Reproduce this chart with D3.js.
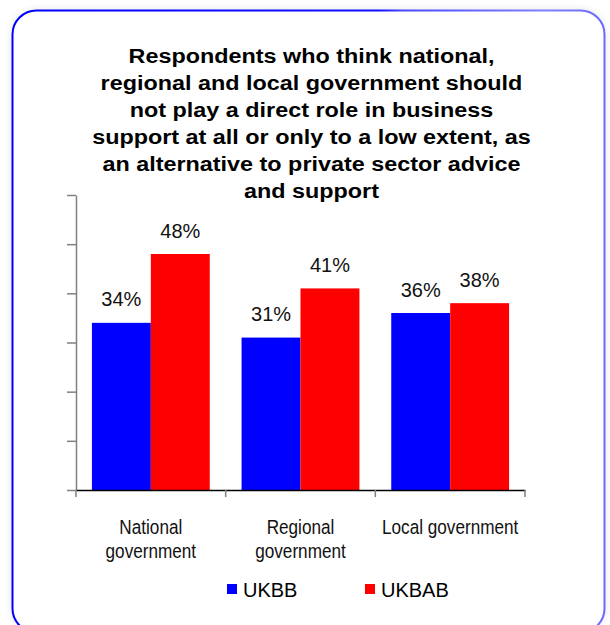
<!DOCTYPE html>
<html>
<head>
<meta charset="utf-8">
<script src="https://cdn.jsdelivr.net/npm/d3@7"></script>
<style>
  html, body { margin: 0; padding: 0; background: #ffffff; }
  svg { display: block; }
  text { font-family: "Liberation Sans", Arial, Helvetica, sans-serif; }
</style>
</head>
<body>
<script>
// Survey results: share of respondents per level of government
const categories = ["National government", "Regional government", "Local government"];
const categoryLines = [["National", "government"], ["Regional", "government"], ["Local government"]];
const seriesNames = ["UKBB", "UKBAB"];
const ukbbValues = [34, 31, 36];
const ukbabValues = [48, 41, 38];
const yTickValues = [0, 10, 20, 30, 40, 50, 60];
const seriesColors = ["#0000ff", "#ff0000"];
const titleLines = [
  "Respondents who think national,",
  "regional and local government should",
  "not play a direct role in business",
  "support at all or only to a low extent, as",
  "an alternative to private sector advice",
  "and support"
];

const rows = categories.map((c, i) => ({ category: c, values: [ukbbValues[i], ukbabValues[i]] }));

const W = 610, H = 625;
const svg = d3.select("body").append("svg").attr("width", W).attr("height", H);
const defs = svg.append("defs");

// Frame stroke fades from strong blue to a lighter blue on the right
const grad = defs.append("linearGradient").attr("id", "frameStroke")
  .attr("x1", "0").attr("y1", "0").attr("x2", "1").attr("y2", "0");
grad.append("stop").attr("offset", "0").attr("stop-color", "#0000ff");
grad.append("stop").attr("offset", "0.62").attr("stop-color", "#1010ff");
grad.append("stop").attr("offset", "0.66").attr("stop-color", "#4a4aff");
grad.append("stop").attr("offset", "0.9").attr("stop-color", "#8080ff");
grad.append("stop").attr("offset", "1").attr("stop-color", "#6a6aff");

const shadow = defs.append("filter").attr("id", "frameShadow")
  .attr("x", "-10%").attr("y", "-10%").attr("width", "120%").attr("height", "120%");
shadow.append("feGaussianBlur").attr("in", "SourceAlpha").attr("stdDeviation", 5).attr("result", "blur");
shadow.append("feComponentTransfer").append("feFuncA").attr("type", "linear").attr("slope", 0.12);

// Soft halo behind the rounded frame
svg.append("rect")
  .attr("x", 12.5).attr("y", 10.5).attr("width", 592).attr("height", 622)
  .attr("rx", 24).attr("ry", 24)
  .attr("fill", "#000").attr("filter", "url(#frameShadow)");

svg.append("rect")
  .attr("x", 12.5).attr("y", 10.5).attr("width", 592).attr("height", 622)
  .attr("rx", 24).attr("ry", 24)
  .attr("fill", "#ffffff")
  .attr("stroke", "url(#frameStroke)").attr("stroke-width", 2);

// Title
const title = svg.append("g").attr("transform", "translate(311.5,0)");
title.selectAll("text").data(titleLines).join("text")
  .attr("transform", (d, i) => `translate(0,${63.3 + i * 26.85}) scale(1.14,1)`)
  .attr("text-anchor", "middle")
  .attr("font-size", 20.5)
  .attr("font-weight", "bold")
  .attr("fill", "#000")
  .text(d => d);

// Scales
const x = d3.scaleBand().domain(categories).range([76, 525]).paddingInner(0).paddingOuter(0);
const xs = d3.scaleBand().domain(seriesNames).range([0, x.bandwidth()]).paddingInner(0).paddingOuter(0.27);
const y = d3.scaleLinear().domain([0, 60]).range([490, 195]);

// Y axis: tick marks only, no labels
const yAxis = svg.append("g").attr("transform", "translate(76,0)")
  .call(d3.axisLeft(y).tickValues(yTickValues).tickSize(9).tickSizeOuter(0).tickFormat(""));
yAxis.select(".domain").attr("stroke", "#808080").attr("stroke-width", 1.5);
yAxis.selectAll(".tick line").attr("stroke", "#808080").attr("stroke-width", 1.5);

// Bars
const groups = svg.append("g").selectAll("g").data(rows).join("g")
  .attr("transform", d => `translate(${x(d.category)},0)`);
groups.selectAll("rect")
  .data(d => d.values.map((v, j) => ({ series: seriesNames[j], value: v, color: seriesColors[j] })))
  .join("rect")
  .attr("x", d => xs(d.series))
  .attr("y", d => y(d.value))
  .attr("width", xs.bandwidth())
  .attr("height", d => y(0) - y(d.value))
  .attr("fill", d => d.color);

// Value labels
groups.selectAll("text.val")
  .data(d => d.values.map((v, j) => ({ series: seriesNames[j], value: v })))
  .join("text").attr("class", "val")
  .attr("x", d => xs(d.series) + xs.bandwidth() / 2)
  .attr("y", d => y(d.value) - 16.5)
  .attr("text-anchor", "middle")
  .attr("font-size", 20)
  .attr("fill", "#111")
  .text(d => d.value + "%");

// X axis: black baseline with gray ticks at category boundaries
const xAxis = svg.append("g").attr("transform", `translate(0,${y(0)})`)
  .call(d3.axisBottom(x).tickSize(0).tickSizeOuter(0).tickFormat(""));
xAxis.select(".domain").attr("stroke", "#000").attr("stroke-width", 1.5);
const boundaries = [x(categories[0])].concat(categories.map(c => x(c) + x.bandwidth()));
xAxis.selectAll("line.sep").data(boundaries).join("line").attr("class", "sep")
  .attr("x1", d => d).attr("x2", d => d)
  .attr("y1", 0).attr("y2", 7)
  .attr("stroke", "#808080").attr("stroke-width", 1.5);

// Category labels
const catLabels = svg.append("g").selectAll("g").data(categories).join("g")
  .attr("transform", c => `translate(${x(c) + x.bandwidth() / 2},0)`);
catLabels.selectAll("text")
  .data((c, i) => categoryLines[i])
  .join("text")
  .attr("transform", (d, i) => `translate(0,${534 + i * 23.7}) scale(0.88,1)`)
  .attr("text-anchor", "middle")
  .attr("font-size", 19.5)
  .attr("fill", "#111")
  .text(d => d);

// Legend
const legendX = [227, 365];
const legend = svg.append("g").selectAll("g").data(seriesNames).join("g")
  .attr("transform", (d, i) => `translate(${legendX[i]},584)`);
legend.append("rect").attr("width", 10).attr("height", 10)
  .attr("fill", (d, i) => seriesColors[i]);
legend.append("text").attr("x", 16).attr("y", 13)
  .attr("font-size", 20).attr("fill", "#000")
  .text(d => d);
</script>
</body>
</html>
